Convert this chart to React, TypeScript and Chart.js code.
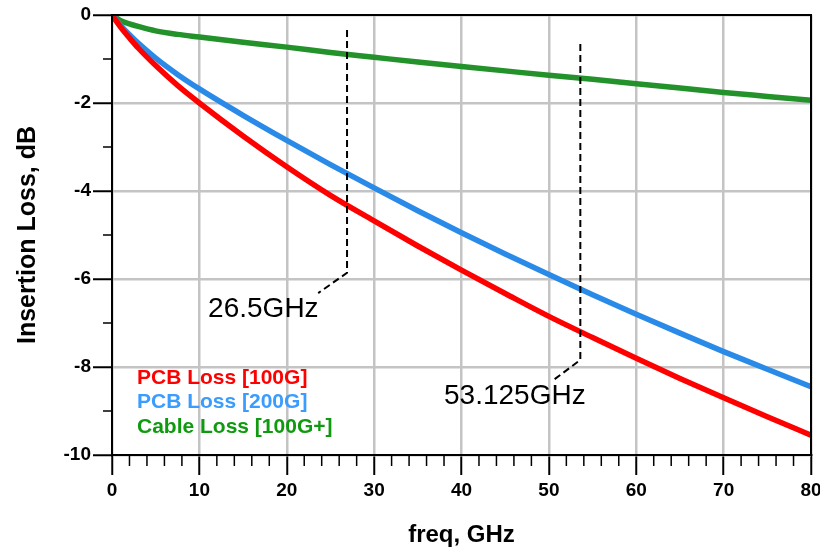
import React, { useEffect, useRef } from "react";
import { Chart, registerables } from "chart.js";

Chart.register(...registerables);

// ---- data ----
const freq = [0, 1, 2, 3, 5, 7.5, 10, 15, 20, 25, 30, 35, 40, 45, 50, 55, 60, 65, 70, 75, 80];
const pcb100 = [0, -0.28, -0.52, -0.75, -1.15, -1.6, -2.0, -2.75, -3.45, -4.1, -4.68, -5.25, -5.8, -6.33, -6.85, -7.33, -7.8, -8.26, -8.7, -9.13, -9.55];
const pcb200 = [0, -0.24, -0.45, -0.64, -0.98, -1.35, -1.68, -2.28, -2.85, -3.4, -3.93, -4.45, -4.95, -5.43, -5.9, -6.36, -6.8, -7.23, -7.65, -8.05, -8.45];
const cable = [0, -0.13, -0.2, -0.26, -0.36, -0.44, -0.5, -0.62, -0.73, -0.85, -0.96, -1.07, -1.17, -1.27, -1.37, -1.46, -1.56, -1.66, -1.76, -1.85, -1.94];

const seriesNames = ["PCB Loss [100G]", "PCB Loss [200G]", "Cable Loss [100G+]"];
const lineColors = ["#ff0000", "#2a8ae8", "#24922a"];
const legendColors = ["#ff0000", "#3a9cff", "#0f9a0f"];

const marker1X = [26.9, 26.9, 23.6];
const marker1Y = [-0.34, -5.86, -6.32];
const marker2X = [53.6, 53.6, 50.5];
const marker2Y = [-0.66, -7.84, -8.3];

const labelTexts = ["26.5GHz", "53.125GHz"];
const labelX = [11.0, 38.0];
const labelY = [-6.68, -8.66];

const legendX = 2.86;
const legendY = [-8.25, -8.8, -9.36];

const xMin = 0, xMax = 80, xMajorStep = 10, xMinorStep = 2;
const yMin = -10, yMax = 0, yMajorStep = 2, yMinorStep = 1;

const FONT = "'Liberation Sans', Arial, Helvetica, sans-serif";

const toPts = (xs: number[], ys: number[]) => xs.map((x, i) => ({ x, y: ys[i] }));

const overlayPlugin = {
  id: "overlay",
  afterDatasetsDraw(chart: any) {
    const { ctx, chartArea, scales } = chart;
    const xs = scales.x, ys = scales.y;
    ctx.save();
    // frame
    ctx.strokeStyle = "#000";
    ctx.lineWidth = 2;
    ctx.strokeRect(chartArea.left, chartArea.top, chartArea.right - chartArea.left, chartArea.bottom - chartArea.top);

    // minor ticks
    ctx.lineWidth = 1.5;
    ctx.beginPath();
    for (let v = xMin; v <= xMax + 1e-9; v += xMinorStep) {
      if (Math.abs(v % xMajorStep) < 1e-9) continue;
      const px = xs.getPixelForValue(v);
      ctx.moveTo(px, chartArea.bottom);
      ctx.lineTo(px, chartArea.bottom + 11);
    }
    for (let v = yMin; v <= yMax + 1e-9; v += yMinorStep) {
      if (Math.abs(v % yMajorStep) < 1e-9) continue;
      const py = ys.getPixelForValue(v);
      ctx.moveTo(chartArea.left, py);
      ctx.lineTo(chartArea.left - 9, py);
    }
    ctx.stroke();

    // annotation labels
    ctx.fillStyle = "#000";
    ctx.font = `28px ${FONT}`;
    ctx.textBaseline = "middle";
    ctx.textAlign = "left";
    labelTexts.forEach((t, i) => {
      ctx.fillText(t, xs.getPixelForValue(labelX[i]), ys.getPixelForValue(labelY[i]));
    });

    // legend
    ctx.font = `bold 21px ${FONT}`;
    seriesNames.forEach((n, i) => {
      ctx.fillStyle = legendColors[i];
      ctx.fillText(n, xs.getPixelForValue(legendX), ys.getPixelForValue(legendY[i]));
    });
    ctx.restore();
  },
};

export default function App() {
  const ref = useRef<HTMLCanvasElement | null>(null);

  useEffect(() => {
    if (!ref.current) return;
    const lineDs = (i: number, data: number[], order: number) => ({
      label: seriesNames[i],
      data: toPts(freq, data),
      borderColor: lineColors[i],
      backgroundColor: lineColors[i],
      borderWidth: 5.5,
      pointRadius: 0,
      tension: 0.4,
      cubicInterpolationMode: "monotone",
      order,
    });
    const dashDs = (xs: number[], ysv: number[]) => ({
      label: "",
      data: toPts(xs, ysv),
      borderColor: "#000",
      borderWidth: 2,
      borderDash: [7, 4],
      pointRadius: 0,
      tension: 0,
      order: 0,
    });
    const chart = new Chart(ref.current, {
      type: "line",
      data: {
        datasets: [
          dashDs(marker1X, marker1Y),
          dashDs(marker2X, marker2Y),
          lineDs(0, pcb100, 1),
          lineDs(1, pcb200, 2),
          lineDs(2, cable, 3),
        ] as any,
      },
      options: {
        animation: false,
        responsive: false,
        maintainAspectRatio: false,
        layout: { padding: { left: 0, right: 9, top: 15, bottom: 0 } },
        plugins: { legend: { display: false }, tooltip: { enabled: false } },
        scales: {
          x: {
            type: "linear",
            min: xMin,
            max: xMax,
            afterFit: (s: any) => { s.height = 98; s.paddingRight = 0; },
            ticks: {
              stepSize: xMajorStep,
              color: "#000",
              padding: 4,
              maxRotation: 0,
              font: { family: FONT, size: 19, weight: "bold" },
            },
            grid: {
              color: "#c4c4c4",
              lineWidth: 2.5,
              tickColor: "#000",
              tickLength: 20,
              tickWidth: 2,
            },
            border: { display: true, color: "#000", width: 2 },
            title: {
              display: true,
              text: "freq, GHz",
              color: "#000",
              font: { family: FONT, size: 24, weight: "bold" },
              padding: { top: 0, bottom: 3 },
            },
          },
          y: {
            type: "linear",
            min: yMin,
            max: yMax,
            afterFit: (s: any) => { s.width = 112; },
            ticks: {
              stepSize: yMajorStep,
              color: "#000",
              padding: 2,
              font: { family: FONT, size: 19, weight: "bold" },
            },
            grid: {
              color: "#c4c4c4",
              lineWidth: 2.5,
              tickColor: "#000",
              tickLength: 19,
              tickWidth: 2,
            },
            border: { display: true, color: "#000", width: 2 },
            title: {
              display: true,
              text: "Insertion Loss, dB",
              color: "#000",
              font: { family: FONT, size: 25, weight: "bold" },
              padding: { top: 13, bottom: 0 },
            },
          },
        },
      },
      plugins: [overlayPlugin],
    });
    return () => chart.destroy();
  }, []);

  return (
    <div style={{ position: "absolute", left: 0, top: 0, width: 820, height: 553, background: "#fff" }}>
      <canvas ref={ref} width={820} height={553} />
    </div>
  );
}
